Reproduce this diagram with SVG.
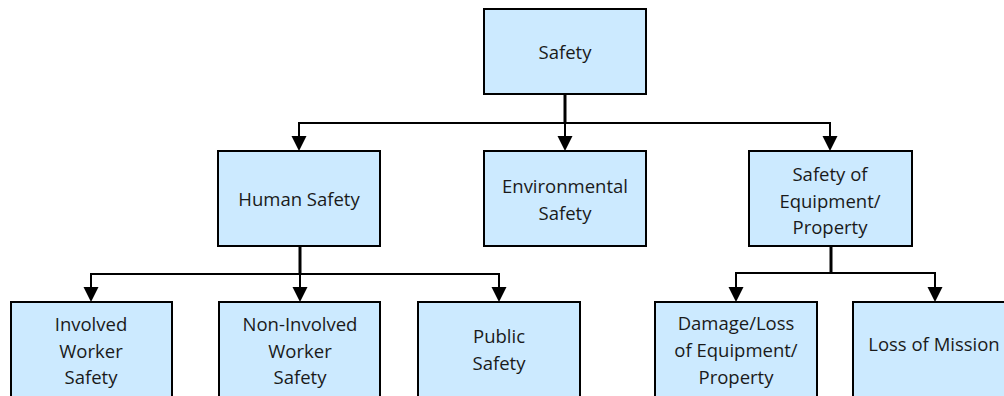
<svg xmlns="http://www.w3.org/2000/svg" width="1004" height="396" viewBox="0 0 1004 396">
<style>
.box{fill:#cceaff;stroke:#000;stroke-width:2}
.t{font-family:"Open Sans","Noto Sans",sans-serif;font-size:18.5px;fill:#1a1a1a;text-anchor:middle}
.ln{fill:none;stroke:#000;stroke-width:2}
.st{fill:none;stroke:#000;stroke-width:3}
.ah{fill:#000}
</style>
<rect width="1004" height="396" fill="#fff"/>
<g id="connectors">
<path class="st" d="M565 94V123"/>
<path class="ln" d="M299 137V123H830V137M565 123V137"/>
<path class="st" d="M300 246V274"/>
<path class="ln" d="M91 288V274H499V288M300 274V288"/>
<path class="st" d="M831 246V273"/>
<path class="ln" d="M736 287V273H935V287"/>
<polygon class="ah" points="291.5,136 306.5,136 299,151"/>
<polygon class="ah" points="557.5,136 572.5,136 565,151"/>
<polygon class="ah" points="822.5,136 837.5,136 830,151"/>
<polygon class="ah" points="83.5,287 98.5,287 91,302"/>
<polygon class="ah" points="292.5,287 307.5,287 300,302"/>
<polygon class="ah" points="491.5,287 506.5,287 499,302"/>
<polygon class="ah" points="728.5,287 743.5,287 736,302"/>
<polygon class="ah" points="927.5,287 942.5,287 935,302"/>
</g>
<g id="safety"><rect class="box" x="484" y="9" width="162" height="85"/><text class="t" x="565" y="59">Safety</text></g>
<g id="human-safety"><rect class="box" x="218" y="151" width="162" height="95"/><text class="t" x="299" y="206">Human Safety</text></g>
<g id="environmental-safety"><rect class="box" x="484" y="151" width="162" height="95"/><text class="t" x="565" y="193">Environmental</text><text class="t" x="565" y="220">Safety</text></g>
<g id="equipment-safety"><rect class="box" x="749" y="151" width="163" height="95"/><text class="t" x="830" y="181">Safety of</text><text class="t" x="830" y="208">Equipment/</text><text class="t" x="830" y="234">Property</text></g>
<g id="involved-worker"><rect class="box" x="11" y="302" width="161" height="100"/><text class="t" x="91" y="331">Involved</text><text class="t" x="91" y="358">Worker</text><text class="t" x="91" y="384">Safety</text></g>
<g id="non-involved-worker"><rect class="box" x="219" y="302" width="161" height="100"/><text class="t" x="300" y="331">Non-Involved</text><text class="t" x="300" y="358">Worker</text><text class="t" x="300" y="384">Safety</text></g>
<g id="public-safety"><rect class="box" x="418" y="302" width="162" height="100"/><text class="t" x="499" y="343">Public</text><text class="t" x="499" y="370">Safety</text></g>
<g id="damage-loss"><rect class="box" x="655" y="302" width="162" height="100"/><text class="t" x="736" y="330">Damage/Loss</text><text class="t" x="736" y="357">of Equipment/</text><text class="t" x="736" y="384">Property</text></g>
<g id="loss-of-mission"><rect class="box" x="853" y="302" width="162" height="100"/><text class="t" x="934" y="351">Loss of Mission</text></g>
</svg>
